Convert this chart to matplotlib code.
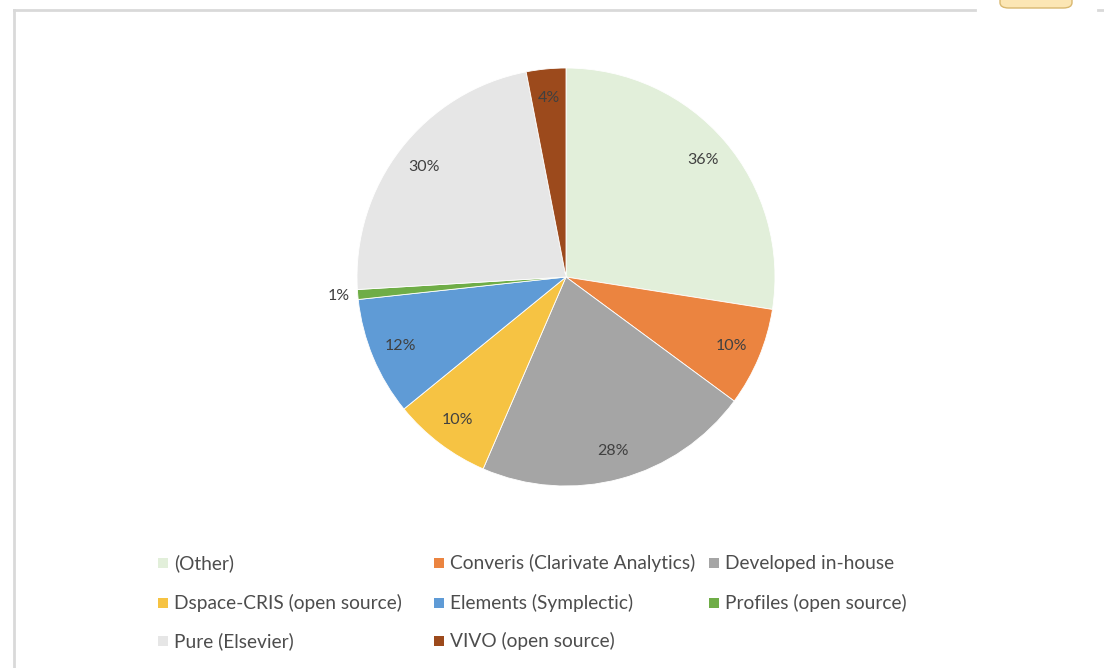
import matplotlib
matplotlib.use("Agg")
import matplotlib.pyplot as plt
import numpy as np
from matplotlib.patches import Rectangle, FancyBboxPatch
from matplotlib.lines import Line2D

plt.rcParams['font.family'] = ['Lato', 'DejaVu Sans']

# survey answers (share of respondents, multiple answers possible)
systems = ["(Other)", "Converis (Clarivate Analytics)", "Developed in-house",
           "Dspace-CRIS (open source)", "Elements (Symplectic)", "Profiles (open source)",
           "Pure (Elsevier)", "VIVO (open source)"]
shares = [36, 10, 28, 10, 12, 1, 30, 4]
colors = ["#E2EFDA", "#EB8440", "#A5A5A5", "#F6C343", "#5F9BD6", "#6FAD47", "#E6E6E6", "#9C4A1C"]

W, H = 1104, 668
fig = plt.figure(figsize=(W / 100, H / 100), dpi=100)

# pie geometry in pixels
cx, cy, r = 566, 277, 209
ax = fig.add_axes([(cx - r) / W, (H - cy - r) / H, 2 * r / W, 2 * r / H])
wedges, _ = ax.pie(shares, colors=colors, startangle=90, counterclock=False,
                   radius=1, wedgeprops=dict(edgecolor="white", linewidth=0.6))
ax.set_xlim(-1, 1)
ax.set_ylim(-1, 1)
ax.set_aspect("equal")
ax.axis("off")

for w, v in zip(wedges, shares):
    mid = np.deg2rad((w.theta1 + w.theta2) / 2)
    d = 0.86 if v > 2 else 1.09
    ax.text(d * np.cos(mid), d * np.sin(mid), f"{v}%", ha="center", va="center",
            fontsize=11.5, color="#404040", clip_on=False)

# legend, Excel style: fixed columns, filled row by row
col_x = [158, 434, 709]
row_y = [563, 603, 641]
for i, (name, c) in enumerate(zip(systems, colors)):
    x, y = col_x[i % 3], row_y[i // 3]
    fig.add_artist(Rectangle((x / W, (H - y - 5) / H), 10 / W, 10 / H,
                             facecolor=c, edgecolor="none"))
    fig.text((x + 16) / W, (H - y) / H, name, ha="left", va="center",
             fontsize=13.8, color="#4D4D4D")

# chart frame remnants
fcol = "#D9D9D9"
fig.add_artist(Line2D([14 / W, 14 / W], [0, 1 - 10 / H], color=fcol, lw=2))
fig.add_artist(Line2D([14 / W, 975 / W], [1 - 10 / H, 1 - 10 / H], color=fcol, lw=2))
fig.add_artist(Line2D([1098 / W, 1], [1 - 10 / H, 1 - 10 / H], color=fcol, lw=2))
fig.add_artist(FancyBboxPatch((1000 / W, 1 - 8 / H), 72 / W, 14 / H,
                              boxstyle="round,pad=0,rounding_size=0.008",
                              facecolor="#FCE6B4", edgecolor="#D9B870", lw=1))

fig.savefig("out.png", dpi=100)
